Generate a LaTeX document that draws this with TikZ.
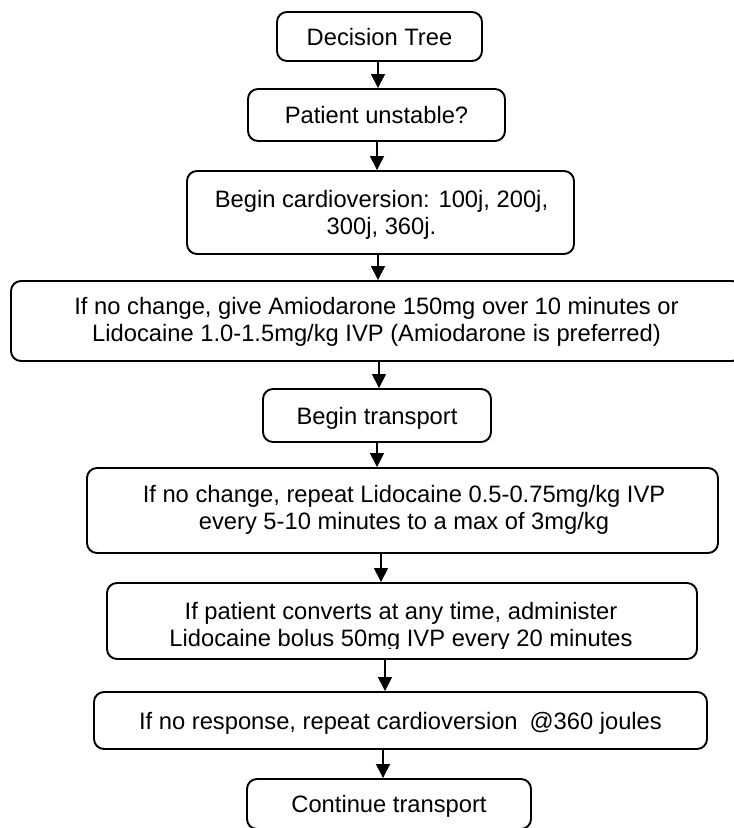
\documentclass[tikz,border=0pt]{standalone}
\usepackage{fontspec}
\setmainfont{Liberation Sans}
\usetikzlibrary{arrows.meta}
\newcommand\bodyfont{\fontsize{17.8pt}{20.25pt}\selectfont}
\tikzset{
  box/.style={draw, line width=1.45pt, rounded corners=7.5pt, inner sep=0pt,
    font=\bodyfont, align=center},
  one/.style={text height=12.75pt, text depth=0pt},
  arr/.style={line width=1.3pt, -{Triangle[width=10.5pt,length=10.5pt]}},
  txt/.style={font=\bodyfont, align=center, inner sep=0pt}
}
\begin{document}
\begin{tikzpicture}[x=0.75pt,y=-0.75pt]
\useasboundingbox (0,0) rectangle (733,828);
\node[box,one, minimum width=153.75pt, minimum height=36.75pt] (b1) at (379.5,36.5) {Decision Tree};
\node[box,one, minimum width=192.75pt, minimum height=39pt] (b2) at (376.5,115) {Patient unstable?};
\node[box, minimum width=290.25pt, minimum height=62.25pt] (b3) at (380.5,212.5) {};
\node[txt] (t3) at (381.5,214.5) {Begin cardioversion: 100j, 200j,\\300j, 360j.};
\node[box, minimum width=548.25pt, minimum height=60pt] (b4) at (376.5,321) {};
\node[txt] (t4) at (376.5,322) {If no change, give Amiodarone 150mg over 10 minutes or\\Lidocaine 1.0-1.5mg/kg IVP (Amiodarone is preferred)};
\node[box,one, minimum width=171pt, minimum height=39.75pt] (b5) at (377,415.5) {Begin transport};
\node[box, minimum width=473.25pt, minimum height=63.75pt] (b6) at (402.5,510.5) {};
\node[txt] (t6) at (404,510) {If no change, repeat Lidocaine 0.5-0.75mg/kg IVP\\every 5-10 minutes to a max of 3mg/kg};
\node[box, minimum width=442.5pt, minimum height=57pt] (b7) at (402,621) {};
\begin{scope}
  \clip (b7.north west) rectangle (b7.east |- 0,648);
  \node[txt] (t7) at (401,627) {If patient converts at any time, administer\\Lidocaine bolus 50mg IVP every 20 minutes};
\end{scope}
\node[box,one, minimum width=459.75pt, minimum height=42.75pt] (b8) at (400.5,720.5) {If no response, repeat cardioversion\hspace{0.5em}@360 joules};
\node[box,one, minimum width=213pt, minimum height=37.5pt] (b9) at (389,804) {Continue transport};
\coordinate (a12) at (378,0);
\coordinate (a23) at (377,0);
\coordinate (a34) at (378,0);
\coordinate (a45) at (379,0);
\coordinate (a56) at (377,0);
\coordinate (a67) at (381,0);
\coordinate (a78) at (385,0);
\coordinate (a89) at (383,0);
\draw[arr] (b1.south -| a12) -- (b2.north -| a12);
\draw[arr] (b2.south -| a23) -- (b3.north -| a23);
\draw[arr] (b3.south -| a34) -- (b4.north -| a34);
\draw[arr] (b4.south -| a45) -- (b5.north -| a45);
\draw[arr] (b5.south -| a56) -- (b6.north -| a56);
\draw[arr] (b6.south -| a67) -- (b7.north -| a67);
\draw[arr] (b7.south -| a78) -- (b8.north -| a78);
\draw[arr] (b8.south -| a89) -- (b9.north -| a89);
\end{tikzpicture}
\end{document}
